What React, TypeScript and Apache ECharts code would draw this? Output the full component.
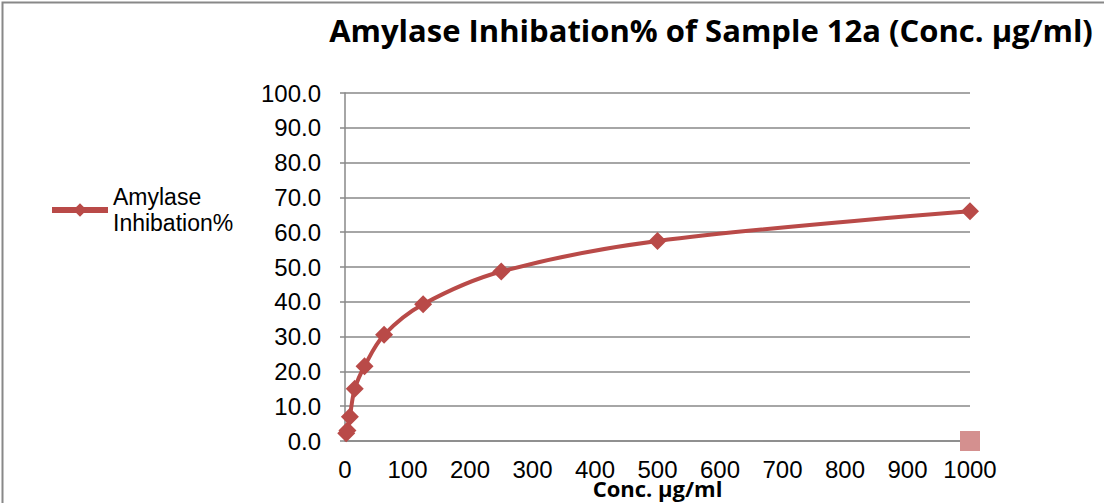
import React, { useEffect, useRef } from "react";
import * as echarts from "echarts";

const concentrations = [1.95, 3.9, 7.8, 15.6, 31.25, 62.5, 125, 250, 500, 1000];
const inhibition = [2.2, 3.0, 7.0, 15.0, 21.5, 30.5, 39.3, 48.7, 57.5, 66.0];
const extraPoint = [[1000, 0]];
const yTicks = { min: 0, max: 100, interval: 10 };
const xTicks = { min: 0, max: 1000, interval: 100 };

export default function App() {
  const ref = useRef<HTMLDivElement>(null);
  useEffect(() => {
    if (!ref.current) return;
    const chart = echarts.init(ref.current, undefined, { renderer: "svg" });
    chart.setOption({
      animation: false,
      backgroundColor: "#fff",
      title: {
        text: "Amylase Inhibation% of Sample 12a (Conc. µg/ml)",
        left: 706,
        top: 9,
        textAlign: "center",
        textStyle: { fontFamily: "Open Sans", fontWeight: "bold", fontSize: 31, color: "#000" },
      },
      legend: {
        left: 49,
        top: 171,
        padding: 0,
        orient: "vertical",
        itemWidth: 56,
        itemHeight: 17,
        itemGap: 8,
        data: [{ name: "Amylase\nInhibation%" }],
        lineStyle: { width: 6 },
        textStyle: { fontFamily: "Liberation Sans", fontSize: 23, color: "#000", lineHeight: 26, padding: [26, 0, 0, 0] },
      },
      grid: { left: 345, right: 134, top: 93, bottom: 62, containLabel: false, outerBoundsMode: "none" },
      xAxis: {
        type: "value",
        min: xTicks.min,
        max: xTicks.max,
        interval: xTicks.interval,
        name: "Conc. µg/ml",
        nameLocation: "middle",
        nameGap: 36,
        nameMoveOverlap: false,
        nameTextStyle: { fontFamily: "Open Sans", fontWeight: "bold", fontSize: 22, color: "#000" },
        axisLine: { show: true, lineStyle: { color: "#888", width: 1.5 } },
        axisTick: { show: false },
        splitLine: { show: false },
        axisLabel: {
          fontFamily: "Liberation Sans",
          fontSize: 24,
          color: "#000",
          margin: 16,
          formatter: (v: number) => String(v),
        },
      },
      yAxis: {
        type: "value",
        min: yTicks.min,
        max: yTicks.max,
        interval: yTicks.interval,
        axisLine: { show: true, lineStyle: { color: "#888", width: 1.5 } },
        axisTick: { show: true, length: 5, lineStyle: { color: "#888", width: 1.5 } },
        splitLine: { show: true, lineStyle: { color: "#888", width: 1.5 } },
        axisLabel: {
          fontFamily: "Liberation Sans",
          fontSize: 24,
          color: "#000",
          margin: 24,
          formatter: (v: number) => v.toFixed(1),
        },
      },
      series: [
        {
          name: "Amylase\nInhibation%",
          type: "line",
          smooth: 0.35,
          data: concentrations.map((c, i) => [c, inhibition[i]]),
          symbol: "diamond",
          symbolSize: 18,
          lineStyle: { color: "#B94A48", width: 4 },
          itemStyle: { color: "#B94A48" },
        },
        {
          name: "extra",
          type: "scatter",
          data: extraPoint,
          symbol: "rect",
          symbolSize: 20,
          itemStyle: { color: "#D4908F", opacity: 1 },
        },
      ],
      graphic: [
        {
          type: "rect",
          left: 0,
          top: 0,
          shape: { x: 0, y: 0, width: 1103, height: 502 },
          style: { fill: "none", stroke: "#888", lineWidth: 2 },
          silent: true,
        },
      ],
    });
    return () => chart.dispose();
  }, []);
  return <div ref={ref} style={{ width: 1104, height: 503, position: "absolute", left: 0, top: 0 }} />;
}
